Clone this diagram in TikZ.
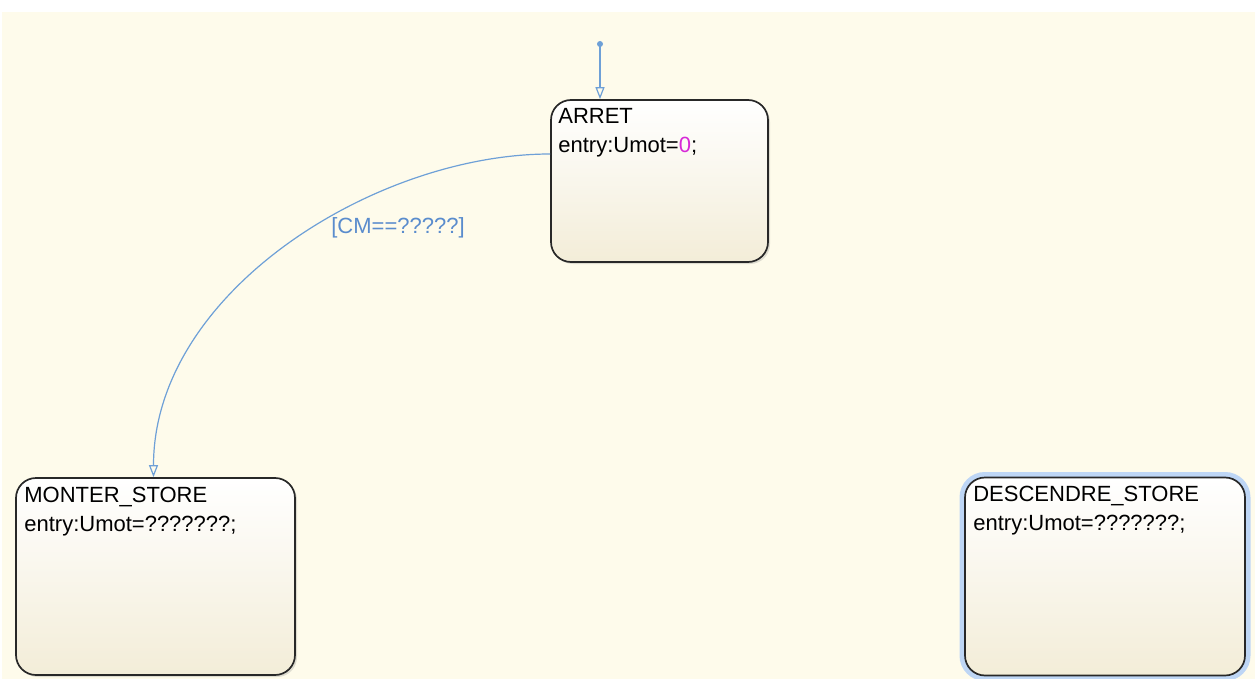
\documentclass[tikz,border=0pt]{standalone}
\usepackage{xcolor}
\usepackage{fontspec}
\setmainfont{Liberation Sans}
\usetikzlibrary{arrows.meta,shadows}

\definecolor{chartbg}{RGB}{254,251,235}
\definecolor{statebot}{RGB}{243,237,216}
\definecolor{stateline}{RGB}{40,40,40}
\definecolor{transblue}{RGB}{110,160,215}
\definecolor{guardblue}{RGB}{90,140,205}
\definecolor{selblue}{RGB}{190,214,245}
\definecolor{numpink}{RGB}{215,40,215}

\begin{document}
\begin{tikzpicture}[x=1pt,y=-1pt]
			\tikzstyle{state} = [draw=stateline, line width=1.7pt, rounded corners=20pt,
				top color=white, bottom color=statebot,
				drop shadow={opacity=0.25, shadow xshift=2pt, shadow yshift=-2pt}]
			\tikzstyle{statetext} = [anchor=base west, inner sep=0pt, font=\fontsize{22}{29}\selectfont]
			\tikzstyle{selected} = [preaction={draw=selblue, line width=11pt}]
			\tikzset{edge/.style = {draw=transblue, line width=1.2pt, -{Triangle[open, length=12pt, width=9pt]}}}

			\useasboundingbox (0,0) rectangle (1255,679);
			\fill[chartbg] (2,12) rectangle (1255,679);

			% states
			\node[state, minimum width=217pt, minimum height=162pt](arret) at (659.5,181) {};
			\node[state, minimum width=279pt, minimum height=197pt](monter) at (155.5,576.5) {};
			\node[state, selected, minimum width=280pt, minimum height=198pt](descendre) at (1105,576.5) {};

			\node[statetext](arret-name) at ([xshift=8pt,yshift=-24pt]arret.north west) {ARRET};
			\node[statetext](arret-entry) at ([yshift=-29pt]arret-name.base west) {entry:Umot=\textcolor{numpink}{0};};
			\node[statetext](monter-name) at ([xshift=9pt,yshift=-25pt]monter.north west) {MONTER\_STORE};
			\node[statetext](monter-entry) at ([yshift=-29pt]monter-name.base west) {entry:Umot=???????;};
			\node[statetext](descendre-name) at ([xshift=9pt,yshift=-25pt]descendre.north west) {DESCENDRE\_STORE};
			\node[statetext](descendre-entry) at ([yshift=-29pt]descendre-name.base west) {entry:Umot=???????;};

			% default transition
			\coordinate (init) at (600,44);
			\fill[transblue] (init) circle (3pt);
			\draw[edge](init) to (arret.north -| init);

			% transition ARRET -> MONTER_STORE
			\draw[edge]([yshift=27pt]arret.west) .. controls +(-175,0) and +(0,-185) .. ([xshift=-2pt]monter.north);
			\node[text=guardblue, inner sep=0pt, font=\fontsize{22}{25}\selectfont](guard) at (398,228) {[CM==?????]};

			\end{tikzpicture}
\end{document}
